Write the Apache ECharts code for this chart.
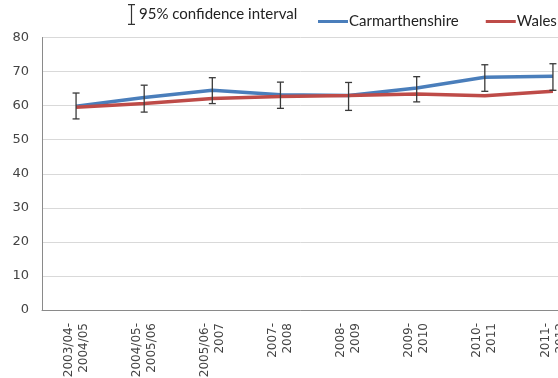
<!DOCTYPE html>
<html>
<head>
<meta charset="utf-8">
<script src="https://cdn.jsdelivr.net/npm/echarts@6/dist/echarts.min.js"></script>
<style>
  html, body { margin: 0; padding: 0; background: #fff; overflow: hidden; }
  #chart { width: 558px; height: 378px; }
</style>
</head>
<body>
<div id="chart"></div>
<script>
// Survey periods
var categories = ['2003/04-2004/05', '2004/05-2005/06', '2005/06-2007', '2007-2008',
                  '2008-2009', '2009-2010', '2010-2011', '2011-2012'];
// Percentages
var carmarthenshire = [59.8, 62.4, 64.5, 63.2, 63.0, 65.2, 68.3, 68.6];
var wales = [59.5, 60.6, 62.1, 62.7, 63.0, 63.4, 62.9, 64.2];
// 95% confidence interval bounds for Carmarthenshire
var ciLower = [56.1, 58.1, 60.6, 59.2, 58.6, 61.1, 64.2, 64.5];
var ciUpper = [63.7, 66.0, 68.2, 66.9, 66.8, 68.5, 72.0, 72.3];
var yTicks = { min: 0, max: 80, interval: 10 };

var ciName = '95% confidence interval';
var ciData = categories.map(function (c, i) { return [i, ciLower[i], ciUpper[i]]; });

var chart = echarts.init(document.getElementById('chart'), null, { renderer: 'canvas' });

chart.setOption({
  animation: false,
  backgroundColor: '#ffffff',
  textStyle: { fontFamily: 'DejaVu Sans' },
  legend: [
    {
      data: [{ name: ciName, icon: 'path://M0,0h7v1.3h-7zM2.9,0h1.2v21h-1.2zM0,19.7h7v1.3h-7z' }],
      left: 128, top: 4, padding: 0,
      width: 300,
      itemWidth: 7, itemHeight: 21, itemGap: 0,
      textStyle: { fontFamily: 'Lato', fontSize: 15, color: '#222', padding: [1, 0, 0, -1] }
    },
    {
      data: ['Carmarthenshire', 'Wales'],
      left: 318, top: 14, padding: 0,
      width: 400,
      icon: 'rect',
      itemWidth: 30, itemHeight: 3, itemGap: 27,
      textStyle: { fontFamily: 'Lato', fontSize: 15, color: '#222', padding: [0, 0, 0, -4] }
    }
  ],
  grid: {
    left: 42, top: 37.5, width: 545, height: 272.5,
    containLabel: false,
    outerBoundsMode: 'none'
  },
  xAxis: {
    type: 'category',
    data: categories,
    boundaryGap: true,
    axisLine: { show: true, lineStyle: { color: '#8a8a8a', width: 1 } },
    axisTick: { show: false },
    axisLabel: {
      interval: 0,
      rotate: 90,
      margin: 13,
      fontSize: 12,
      lineHeight: 15,
      color: '#444',
      hideOverlap: false,
      formatter: function (v) { return v.replace('-', '-\n'); }
    },
    splitLine: { show: false }
  },
  yAxis: {
    type: 'value',
    min: yTicks.min, max: yTicks.max, interval: yTicks.interval,
    axisLine: { show: true, lineStyle: { color: '#8a8a8a', width: 1 } },
    axisTick: { show: false },
    axisLabel: { fontSize: 13, color: '#444', margin: 13 },
    splitLine: { show: true, lineStyle: { color: '#d9d9d9', width: 1 } }
  },
  series: [
    {
      name: 'Carmarthenshire',
      type: 'line',
      data: carmarthenshire,
      symbol: 'none',
      color: '#4a7ebb',
      lineStyle: { color: '#4a7ebb', width: 3.5 },
      z: 2
    },
    {
      name: 'Wales',
      type: 'line',
      data: wales,
      symbol: 'none',
      color: '#be4b48',
      lineStyle: { color: '#be4b48', width: 3.5 },
      z: 3
    },
    {
      name: ciName,
      type: 'custom',
      data: ciData,
      color: '#333',
      itemStyle: { color: '#333' },
      encode: { x: 0, y: [1, 2] },
      z: 4,
      renderItem: function (params, api) {
        var lo = api.coord([api.value(0), api.value(1)]);
        var hi = api.coord([api.value(0), api.value(2)]);
        var half = 3.5;
        var style = { stroke: '#3a3a3a', lineWidth: 1.3, fill: null };
        return {
          type: 'group',
          children: [
            { type: 'line', shape: { x1: lo[0], y1: lo[1], x2: hi[0], y2: hi[1] }, style: style },
            { type: 'line', shape: { x1: lo[0] - half, y1: lo[1], x2: lo[0] + half, y2: lo[1] }, style: style },
            { type: 'line', shape: { x1: hi[0] - half, y1: hi[1], x2: hi[0] + half, y2: hi[1] }, style: style }
          ]
        };
      }
    }
  ]
});
</script>
</body>
</html>
